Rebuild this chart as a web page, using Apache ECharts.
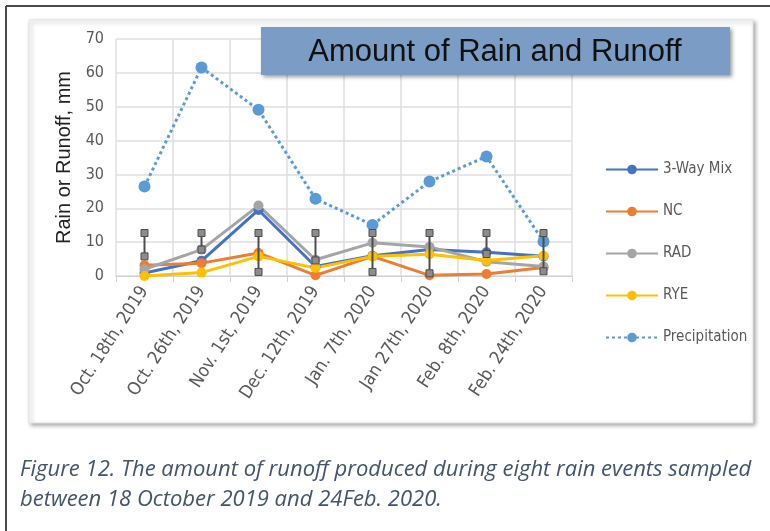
<!DOCTYPE html>
<html>
<head>
<meta charset="utf-8">
<script src="https://cdn.jsdelivr.net/npm/echarts@6/dist/echarts.min.js"></script>
<style>
  html, body { margin: 0; padding: 0; background: #fff; }
  #chart { width: 770px; height: 531px; }
</style>
</head>
<body>
<div id="chart"></div>
<script>
// categories and values
var dates = ['Oct. 18th, 2019', 'Oct. 26th, 2019', 'Nov. 1st, 2019', 'Dec. 12th, 2019',
             'Jan. 7th, 2020', 'Jan 27th, 2020', 'Feb. 8th, 2020', 'Feb. 24th, 2020'];
var threeWayMix   = [0.9, 4.5, 19.5, 2.8, 6.0, 7.8, 7.0, 5.8];
var nc            = [3.2, 3.8, 6.8, 0.2, 5.8, 0.2, 0.6, 2.5];
var rad           = [2.0, 7.8, 20.8, 4.8, 9.8, 8.6, 4.2, 2.8];
var rye           = [0.0, 1.0, 5.8, 2.4, 5.8, 6.4, 4.6, 6.0];
var precipitation = [26.4, 61.6, 49.1, 22.8, 15.1, 27.9, 35.3, 10.2];
// error bar ends
var errHigh = [12.7, 12.7, 12.7, 12.7, 12.7, 12.7, 12.7, 12.7];
var errLow  = [5.8, 7.8, 1.2, 4.6, 1.2, 0.8, 6.5, 1.4];

var labelFont = "'Liberation Sans Narrow', 'DejaVu Sans Condensed', 'Roboto Condensed', 'Liberation Sans', sans-serif";

var chartDom = document.getElementById('chart');
var myChart = echarts.init(chartDom);

function lineSeries(name, data, color) {
    return {
        name: name,
        type: 'line',
        data: data,
        symbol: 'circle',
        symbolSize: 10,
        itemStyle: { color: color },
        lineStyle: { color: color, width: 3 },
        z: 3
    };
}

var errData = dates.map(function (d, i) { return [i, errLow[i], errHigh[i]]; });

var option = {
    animation: false,
    backgroundColor: '#fff',
    grid: { left: 116, right: 198, top: 39, bottom: 255 },
    xAxis: {
        type: 'category',
        data: dates,
        boundaryGap: true,
        axisLine: { lineStyle: { color: '#d0d0d0', width: 1 } },
        axisTick: { show: true, alignWithLabel: false, length: 6, lineStyle: { color: '#d0d0d0' } },
        splitLine: { show: true, lineStyle: { color: '#dedede', width: 1.5 } },
        axisLabel: { rotate: 57, margin: 12, color: '#595959', fontSize: 18, fontFamily: labelFont }
    },
    yAxis: {
        type: 'value',
        min: 0,
        max: 70,
        interval: 10,
        name: 'Rain or Runoff, mm',
        nameLocation: 'middle',
        nameRotate: 90,
        nameGap: 40,
        nameTextStyle: { color: '#222', fontSize: 20, fontFamily: "'Liberation Sans', Arial, sans-serif" },
        axisLine: { show: false },
        axisTick: { show: false },
        splitLine: { lineStyle: { color: '#dedede', width: 1.5 } },
        axisLabel: { color: '#595959', fontSize: 16, margin: 12, fontFamily: labelFont }
    },
    legend: {
        orient: 'vertical',
        left: 600,
        top: 157,
        itemGap: 27,
        itemWidth: 52,
        itemHeight: 12,
        textStyle: { color: '#595959', fontSize: 15, fontFamily: labelFont },
        data: ['3-Way Mix', 'NC', 'RAD', 'RYE', 'Precipitation']
    },
    graphic: [
        // outer frame of the page
        { type: 'line', shape: { x1: 6, y1: 6, x2: 770, y2: 6 }, style: { stroke: '#4a4a4a', lineWidth: 2 }, z: -10 },
        { type: 'line', shape: { x1: 6, y1: 6, x2: 6, y2: 531 }, style: { stroke: '#4a4a4a', lineWidth: 2 }, z: -10 },
        // chart panel with shadow
        {
            type: 'rect', z: -20, silent: true,
            shape: { x: 29, y: 20, width: 724, height: 403 },
            style: { fill: '#fff', stroke: '#e4e4e4', lineWidth: 1, shadowBlur: 4, shadowOffsetX: 2, shadowOffsetY: 2, shadowColor: 'rgba(0,0,0,0.35)' }
        },
        // title box
        {
            type: 'rect', z: 100,
            shape: { x: 261, y: 27, width: 469, height: 48 },
            style: { fill: '#7b9dc5', shadowBlur: 4, shadowOffsetX: 2, shadowOffsetY: 2, shadowColor: 'rgba(0,0,0,0.4)' }
        },
        {
            type: 'text', z: 101,
            x: 495, y: 52,
            style: { text: 'Amount of Rain and Runoff', fill: '#111', fontSize: 31, fontFamily: "'Liberation Sans', Arial, sans-serif", align: 'center', verticalAlign: 'middle' }
        },
        // caption
        {
            type: 'text', x: 20, y: 470,
            style: {
                text: 'Figure 12. The amount of runoff produced during eight rain events sampled',
                fill: '#44546a', fontSize: 22, fontStyle: 'italic', fontFamily: "'Open Sans', 'Noto Sans', sans-serif", verticalAlign: 'middle'
            }
        },
        {
            type: 'text', x: 20, y: 500,
            style: {
                text: 'between 18 October 2019 and 24Feb. 2020.',
                fill: '#44546a', fontSize: 22, fontStyle: 'italic', fontFamily: "'Open Sans', 'Noto Sans', sans-serif", verticalAlign: 'middle'
            }
        }
    ],
    series: [
        lineSeries('3-Way Mix', threeWayMix, '#4472c4'),
        lineSeries('NC', nc, '#ed7d31'),
        lineSeries('RAD', rad, '#a5a5a5'),
        lineSeries('RYE', rye, '#ffc000'),
        {
            name: 'Precipitation',
            type: 'line',
            data: precipitation,
            symbol: 'circle',
            symbolSize: 12,
            itemStyle: { color: '#5b9bd5' },
            lineStyle: { color: '#5b9bd5', width: 3, type: [3, 3] },
            z: 4
        },
        {
            name: 'error',
            type: 'custom',
            data: errData,
            z: 5,
            renderItem: function (params, api) {
                var x = api.coord([api.value(0), 0])[0];
                var lo = api.coord([api.value(0), api.value(1)])[1];
                var hi = api.coord([api.value(0), api.value(2)])[1];
                var s = 7;
                var capStyle = { fill: '#8c8c8c', stroke: '#4d4d4d', lineWidth: 1 };
                return {
                    type: 'group',
                    children: [
                        { type: 'line', shape: { x1: x, y1: lo, x2: x, y2: hi }, style: { stroke: '#4d4d4d', lineWidth: 2 } },
                        { type: 'rect', shape: { x: x - s / 2, y: hi - s / 2, width: s, height: s }, style: capStyle },
                        { type: 'rect', shape: { x: x - s / 2, y: lo - s / 2, width: s, height: s }, style: capStyle }
                    ]
                };
            }
        }
    ]
};

myChart.setOption(option);
</script>
</body>
</html>
